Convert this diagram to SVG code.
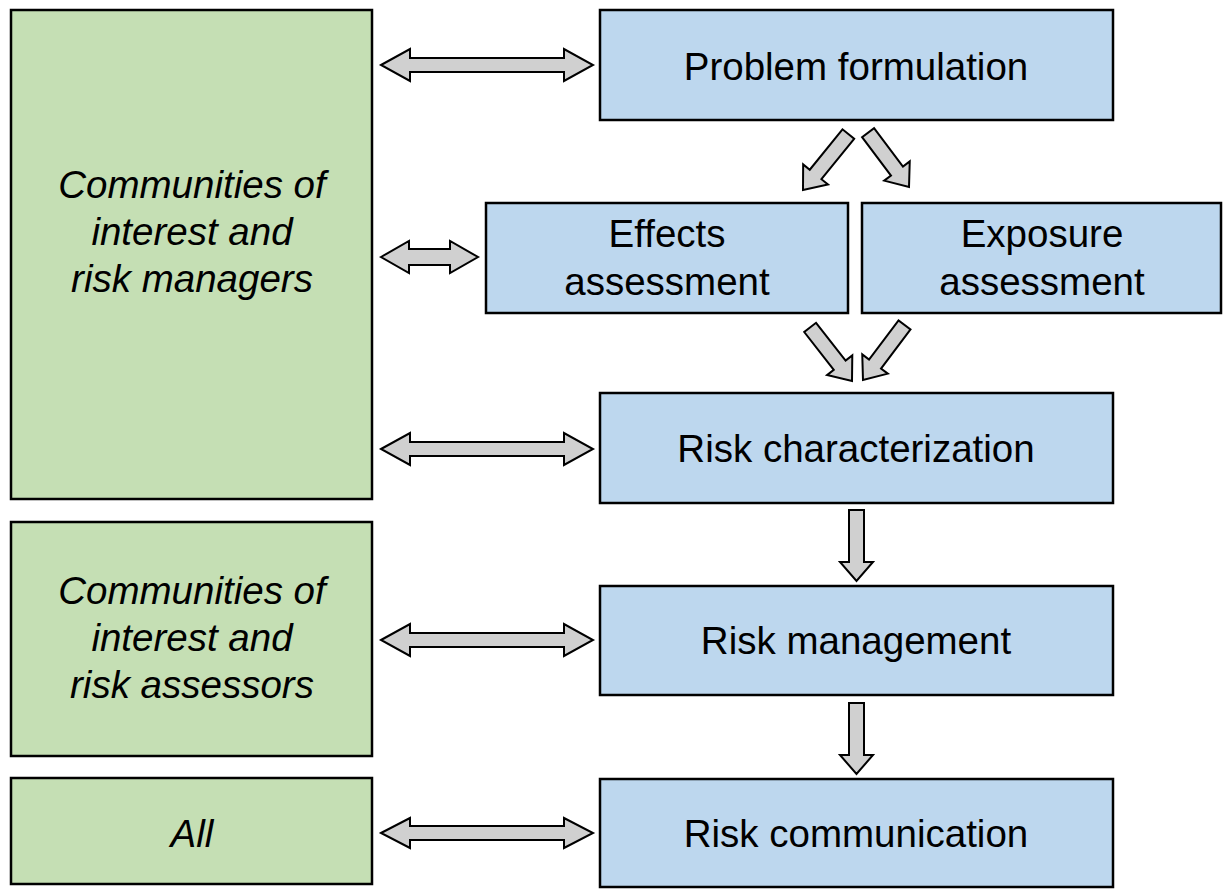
<svg xmlns="http://www.w3.org/2000/svg" width="1223" height="889" viewBox="0 0 1223 889">
<style>
.g{fill:#c5dfb4;stroke:#000;stroke-width:2.5}
.b{fill:#bdd7ee;stroke:#000;stroke-width:2.5}
.a{fill:#d0d0d0;stroke:#000;stroke-width:2;stroke-linejoin:miter}
.t{font-family:"Liberation Sans",Arial,sans-serif;font-size:38.5px;fill:#000;text-anchor:middle}
.i{font-style:italic}
</style>
<rect width="1223" height="889" fill="#fff"/>
<g id="n-managers"><rect class="g" x="11" y="10" width="361" height="489"/>
<text class="t i" x="192" y="198">Communities of</text><text class="t i" x="192" y="245">interest and</text><text class="t i" x="192" y="292">risk managers</text></g>
<g id="n-assessors"><rect class="g" x="11" y="522" width="361" height="234"/>
<text class="t i" x="192" y="604">Communities of</text><text class="t i" x="192" y="651">interest and</text><text class="t i" x="192" y="698">risk assessors</text></g>
<g id="n-all"><rect class="g" x="11" y="778" width="361" height="106"/>
<text class="t i" x="192" y="847">All</text></g>
<g id="n-problem"><rect class="b" x="600" y="10" width="513" height="110"/>
<text class="t" x="856" y="80">Problem formulation</text></g>
<g id="n-effects"><rect class="b" x="486" y="203" width="362" height="110"/>
<text class="t" x="667" y="247">Effects</text><text class="t" x="667" y="295">assessment</text></g>
<g id="n-exposure"><rect class="b" x="862" y="203" width="359" height="110"/>
<text class="t" x="1042" y="247">Exposure</text><text class="t" x="1042" y="295">assessment</text></g>
<g id="n-char"><rect class="b" x="600" y="393" width="513" height="110"/>
<text class="t" x="856" y="462">Risk characterization</text></g>
<g id="n-mgmt"><rect class="b" x="600" y="586" width="513" height="109"/>
<text class="t" x="856" y="654">Risk management</text></g>
<g id="n-comm"><rect class="b" x="600" y="779" width="513" height="108"/>
<text class="t" x="856" y="847">Risk communication</text></g>
<g id="connectors">
<polygon class="a" points="381,65 410,49 410,58 564,58 564,49 593,65 564,81 564,72 410,72 410,81"/>
<polygon class="a" points="381,257 409,241 409,249 450,249 450,241 478,257 450,273 450,265 409,265 409,273"/>
<polygon class="a" points="381,449 410,433 410,442 564,442 564,433 593,449 564,465 564,456 410,456 410,465"/>
<polygon class="a" points="381,640 410,624 410,633 564,633 564,624 593,640 564,656 564,647 410,647 410,656"/>
<polygon class="a" points="381,833 410,818 410,826 564,826 564,818 593,833 564,848 564,840 410,840 410,848"/>
<polygon class="a" points="849,510 864,510 864,562 873,562 856.5,581 840,562 849,562"/>
<polygon class="a" points="849,703 864,703 864,755 873,755 856.5,774 840,755 849,755"/>
<polygon class="a" transform="translate(803,190) rotate(129)" points="-72,-7.5 -20,-7.5 -20,-16 0,0 -20,16 -20,7.5 -72,7.5"/>
<polygon class="a" transform="translate(909,187) rotate(53)" points="-68,-7.5 -20,-7.5 -20,-16 0,0 -20,16 -20,7.5 -68,7.5"/>
<polygon class="a" transform="translate(852,381) rotate(52)" points="-68,-7.5 -20,-7.5 -20,-16 0,0 -20,16 -20,7.5 -68,7.5"/>
<polygon class="a" transform="translate(863,380) rotate(127)" points="-69,-7.5 -20,-7.5 -20,-16 0,0 -20,16 -20,7.5 -69,7.5"/>
</g>
</svg>
